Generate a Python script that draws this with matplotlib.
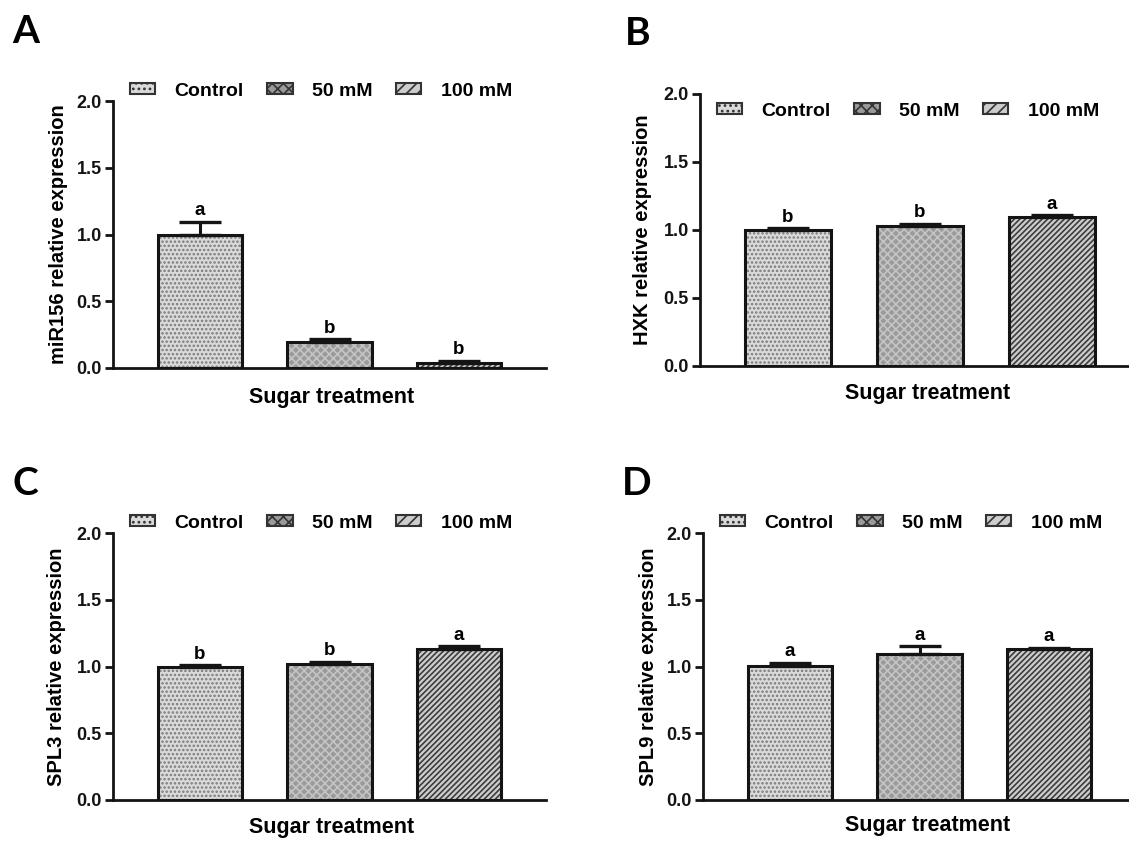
import matplotlib
matplotlib.use('Agg')
import matplotlib.pyplot as plt
import matplotlib.patches as mpatches
import numpy as np

groups = ['Control', '50 mM', '100 mM']

mir156 = [1.00, 0.195, 0.04]
mir156_err = [0.095, 0.02, 0.015]
mir156_sig = ['a', 'b', 'b']

hxk = [1.00, 1.03, 1.095]
hxk_err = [0.012, 0.015, 0.012]
hxk_sig = ['b', 'b', 'a']

spl3 = [1.00, 1.02, 1.13]
spl3_err = [0.008, 0.017, 0.02]
spl3_sig = ['b', 'b', 'a']

spl9 = [1.005, 1.09, 1.13]
spl9_err = [0.02, 0.06, 0.012]
spl9_sig = ['a', 'a', 'a']

ylabels = ['miR156 relative expression', 'HXK relative expression',
           'SPL3 relative expression', 'SPL9 relative expression']
panel_names = ['A', 'B', 'C', 'D']

W, H = 1129, 841
plt.rcParams['font.family'] = ['Liberation Sans', 'DejaVu Sans']
plt.rcParams['font.weight'] = 'bold'
plt.rcParams['hatch.linewidth'] = 1.2

faces = ['#dadada', '#9a9a9a', '#cdcdcd']
hatches = ['....', 'xxxx', '//////']
hatch_cols = ['#7a7a7a', '#c4c4c4', '#3c3c3c']
edge = '#141414'

# pixel layout: axis left/right, y of 0.0 and 2.0, first/last bar centre,
# panel letter pos, ylabel x, xlabel centre, legend left/centre
layout = [
    dict(l=113, r=546, y0=368, y2=101, c0=200, c2=459, let=(12, 43), ylx=59, xl=(332, 397), leg=(130, 91)),
    dict(l=700, r=1129, y0=366, y2=94, c0=788, c2=1052, let=(625, 45), ylx=642, xl=(928, 393), leg=(717, 111)),
    dict(l=113, r=546, y0=800, y2=533, c0=200, c2=459, let=(12, 495), ylx=57, xl=(332, 828), leg=(130, 523)),
    dict(l=703, r=1129, y0=800, y2=533, c0=790, c2=1049, let=(622, 495), ylx=648, xl=(928, 825), leg=(720, 523)),
]

series = [(mir156, mir156_err, mir156_sig), (hxk, hxk_err, hxk_sig),
          (spl3, spl3_err, spl3_sig), (spl9, spl9_err, spl9_sig)]

fig = plt.figure(figsize=(W / 100, H / 100), dpi=100)
x = np.arange(len(groups))

for k, (vals, errs, sig) in enumerate(series):
    p = layout[k]
    ax = fig.add_axes([p['l'] / W, 1 - p['y0'] / H, (p['r'] - p['l']) / W, (p['y0'] - p['y2']) / H])
    sp = (p['c2'] - p['c0']) / 2
    ax.set_xlim(-(p['c0'] - p['l']) / sp, 2 + (p['r'] - p['c2']) / sp)
    ax.set_ylim(0, 2.0)

    for i in range(len(groups)):
        ax.bar(x[i], vals[i], width=0.65, color=faces[i], hatch=hatches[i],
               edgecolor=hatch_cols[i], linewidth=0, zorder=2)
    ax.bar(x, vals, width=0.65, fill=False, edgecolor=edge, linewidth=2.2, zorder=3)
    ax.errorbar(x, vals, yerr=[np.zeros(len(vals)), errs], fmt='none', ecolor=edge,
                elinewidth=2.2, capsize=15, capthick=2.4, zorder=4)
    for i in range(len(groups)):
        ax.annotate(sig[i], (x[i], vals[i] + errs[i]), xytext=(0, 2), textcoords='offset points',
                    ha='center', va='bottom', fontsize=13.5, fontweight='bold')

    for s in ['top', 'right']:
        ax.spines[s].set_visible(False)
    for s in ['left', 'bottom']:
        ax.spines[s].set_linewidth(2)
        ax.spines[s].set_color(edge)
    ax.set_xticks([])
    ax.set_yticks(np.arange(0, 2.01, 0.5))
    ax.set_yticklabels(['%.1f' % v for v in np.arange(0, 2.01, 0.5)])
    ax.tick_params(axis='y', length=6, width=2, labelsize=13, pad=2, colors=edge)

    ax.set_ylabel(ylabels[k], fontsize=14.5, fontweight='bold', va='center')
    ax.yaxis.set_label_coords((p['ylx'] - p['l']) / (p['r'] - p['l']), 0.5)
    ax.set_xlabel('Sugar treatment', fontsize=15.5, fontweight='bold', va='center')
    ax.xaxis.set_label_coords((p['xl'][0] - p['l']) / (p['r'] - p['l']),
                              -(p['xl'][1] - p['y0']) / (p['y0'] - p['y2']))

    handles = [mpatches.Patch(facecolor=faces[i], hatch=hatches[i][:3], edgecolor='#333333',
                              linewidth=1.5) for i in range(len(groups))]
    fig.legend(handles, groups, loc='center left', ncol=3, frameon=False,
               bbox_to_anchor=(p['leg'][0] / W, 1 - p['leg'][1] / H),
               prop={'size': 14, 'weight': 'bold'}, borderpad=0, borderaxespad=0,
               handlelength=1.3, handleheight=0.55, handletextpad=1.0, columnspacing=1.2)

    fig.text(p['let'][0] / W, 1 - p['let'][1] / H, panel_names[k], fontsize=28,
             fontweight='bold', family=['Lato', 'DejaVu Sans'], va='baseline', ha='left')

fig.savefig('out.png', dpi=100, facecolor='white')
